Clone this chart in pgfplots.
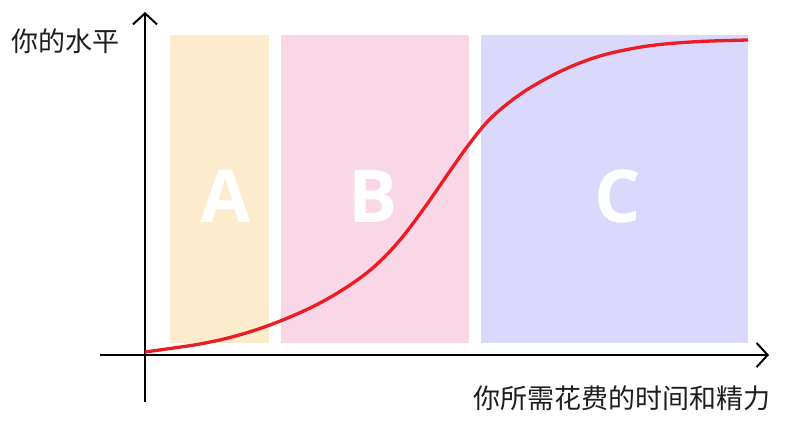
\documentclass[border=0pt]{standalone}
\usepackage{pgfplots}
\pgfplotsset{compat=1.18}
\usepackage{fontspec}
\usetikzlibrary{arrows.meta}
\newfontfamily\cjk{Noto Sans CJK SC}
\newfontfamily\lett{Open Sans}
\definecolor{cA}{RGB}{252,236,205}
\definecolor{cB}{RGB}{250,215,230}
\definecolor{cC}{RGB}{218,217,251}
\definecolor{cR}{RGB}{236,28,36}
\definecolor{txt}{RGB}{30,30,30}
\begin{document}
\begin{tikzpicture}
\useasboundingbox (0,0) rectangle (805pt,427pt);
\begin{axis}[at={(0,0)},anchor=south west,
  width=805pt,height=427pt,scale only axis,
  xmin=0,xmax=805,ymin=0,ymax=427,hide axis,clip=false]
% regions
\addplot[fill=cA,draw=none] coordinates {(170,84) (269,84) (269,392) (170,392)} -- cycle;
\addplot[fill=cB,draw=none] coordinates {(281,84) (469,84) (469,392) (281,392)} -- cycle;
\addplot[fill=cC,draw=none] coordinates {(481,84) (748,84) (748,392) (481,392)} -- cycle;
% letters
\node[anchor=base,inner sep=0,text=white] at (axis cs:226,204) {\lett\bfseries\fontsize{73}{80}\selectfont A};
\node[anchor=base,inner sep=0,text=white] at (axis cs:373,204) {\lett\bfseries\fontsize{73}{80}\selectfont B};
\node[anchor=base,inner sep=0,text=white] at (axis cs:618,204) {\lett\bfseries\fontsize{73}{80}\selectfont C};
% axes
\draw[line width=2pt,-{Straight Barb[length=11pt,width=24pt,line width=2pt]}] (axis cs:145,25) -- (axis cs:145,415);
\draw[line width=2pt,-{Straight Barb[length=11pt,width=24pt,line width=2pt]}] (axis cs:100,72) -- (axis cs:769,72);
% curve
\addplot[cR,line width=3.3pt,smooth,tension=0.6] coordinates {
(145,75) (170,78.5) (200,83) (230,89.5) (260,98.5) (290,110) (320,124) (350,142)
(375,161) (400,187) (425,220) (450,256) (470,284) (490,308) (515,329) (540,345)
(570,360) (600,371) (630,378) (660,382.5) (700,385.5) (748,387)};
% labels
\node[anchor=base west,inner sep=0,text=txt] at (axis cs:11,375) {\cjk\fontsize{27}{30}\selectfont 你的水平};
\node[anchor=base east,inner sep=0,text=txt] at (axis cs:771,18) {\cjk\fontsize{27}{30}\selectfont 你所需花费的时间和精力};
\end{axis}
\end{tikzpicture}
\end{document}
